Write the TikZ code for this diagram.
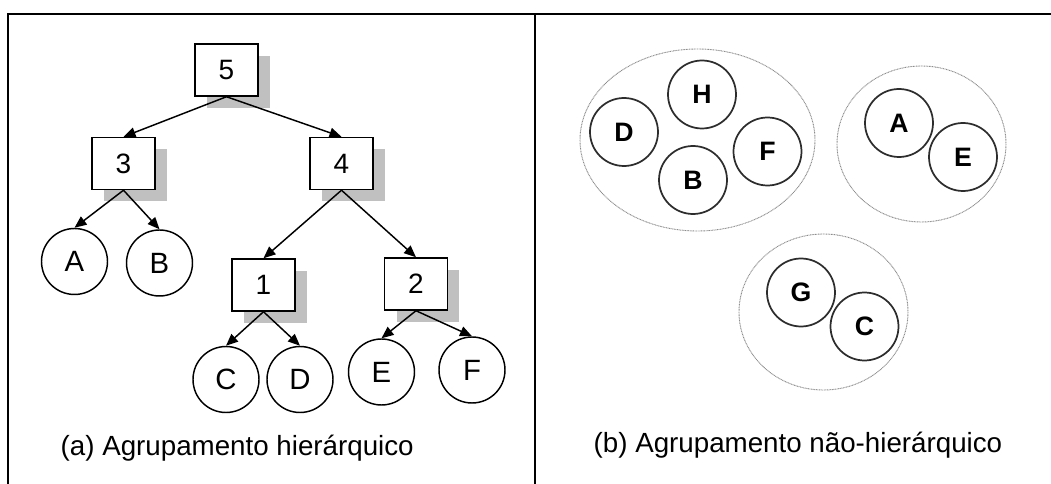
\documentclass[tikz,border=0pt]{standalone}
\usepackage{fontspec}
\setmainfont{Liberation Sans}
\usetikzlibrary{arrows.meta, shadows}
\definecolor{shadowgray}{RGB}{192, 192, 192}
\definecolor{ringgray}{RGB}{45, 45, 45}
\definecolor{dotgray}{RGB}{140, 140, 140}

\begin{document}
\begin{tikzpicture}[
  x=0.75pt, y=-0.75pt,
  cluster/.style={
    rectangle, draw=black, line width=1.1pt, fill=white,
    minimum width=47pt, minimum height=39pt,
    font=\fontsize{21}{24}\selectfont,
    drop shadow={shadow xshift=9pt, shadow yshift=-9pt, fill=shadowgray, opacity=1}
  },
  leaf/.style={
    circle, draw=black, line width=1.1pt, fill=white,
    minimum size=49.5pt, inner sep=0pt,
    font=\fontsize{22}{24}\selectfont
  },
  item/.style={
    circle, draw=ringgray, line width=1.3pt,
    minimum size=51pt, inner sep=0pt,
    font=\fontsize{20}{22}\selectfont\bfseries
  },
  group/.style={draw=dotgray, line width=0.7pt, dash pattern=on 0.7pt off 0.5pt},
  link/.style={-{Triangle[length=9pt, width=7.5pt]}, line width=1.1pt},
  frame/.style={line width=1.9pt},
  caption/.style={anchor=west, font=\fontsize{20.8}{24}\selectfont},
]
\useasboundingbox (0,0) rectangle (1051,484);

%% Panels
\draw[frame] (8,484) |- (1051,14);
\draw[frame] (535,14) -- (535,484);

%% (a) dendrogram
\node[cluster] (n5) at (226.5,70)  {5};
\node[cluster] (n3) at (123.5,163.5) {3};
\node[cluster] (n4) at (341.5,163.5) {4};
\node[cluster] (n1) at (263.5,285) {1};
\node[cluster] (n2) at (416,284)   {2};

\node[leaf] (la) at (74.5,261.5) {A};
\node[leaf] (lb) at (159.5,263)  {B};
\node[leaf] (lc) at (226,379.5)  {C};
\node[leaf] (ld) at (300,379.5)  {D};
\node[leaf] (le) at (381.5,372)  {E};
\node[leaf] (lf) at (472,370)    {F};

\foreach \p/\c in {n5/n3, n5/n4, n3/la, n3/lb, n4/n1, n4/n2, n1/lc, n1/ld, n2/le, n2/lf} {
  \draw[link] (\p.south) -- (\c.north);
}

\node[caption] (capa) at (56,448) {(a) Agrupamento hierárquico};

%% (b) partition
\draw[group] (697.5,140) ellipse [x radius=117.5, y radius=91];
\draw[group] (921.5,144) ellipse [x radius=84.5, y radius=78];
\draw[group] (823.5,312) ellipse [x radius=84.5, y radius=78];

\node[item] (rh) at (702,94.5)   {H};
\node[item] (rd) at (624,132)    {D};
\node[item] (rb) at (693,180)    {B};
\node[item] (rf) at (767.5,151.5) {F};
\node[item] (ra) at (899,123)    {A};
\node[item] (re) at (963,157)    {E};
\node[item] (rg) at (801,292.5)  {G};
\node[item] (rc) at (864.5,326.5) {C};

\node[caption] (capb) at (589,445) {(b) Agrupamento não-hierárquico};

\end{tikzpicture}
\end{document}
